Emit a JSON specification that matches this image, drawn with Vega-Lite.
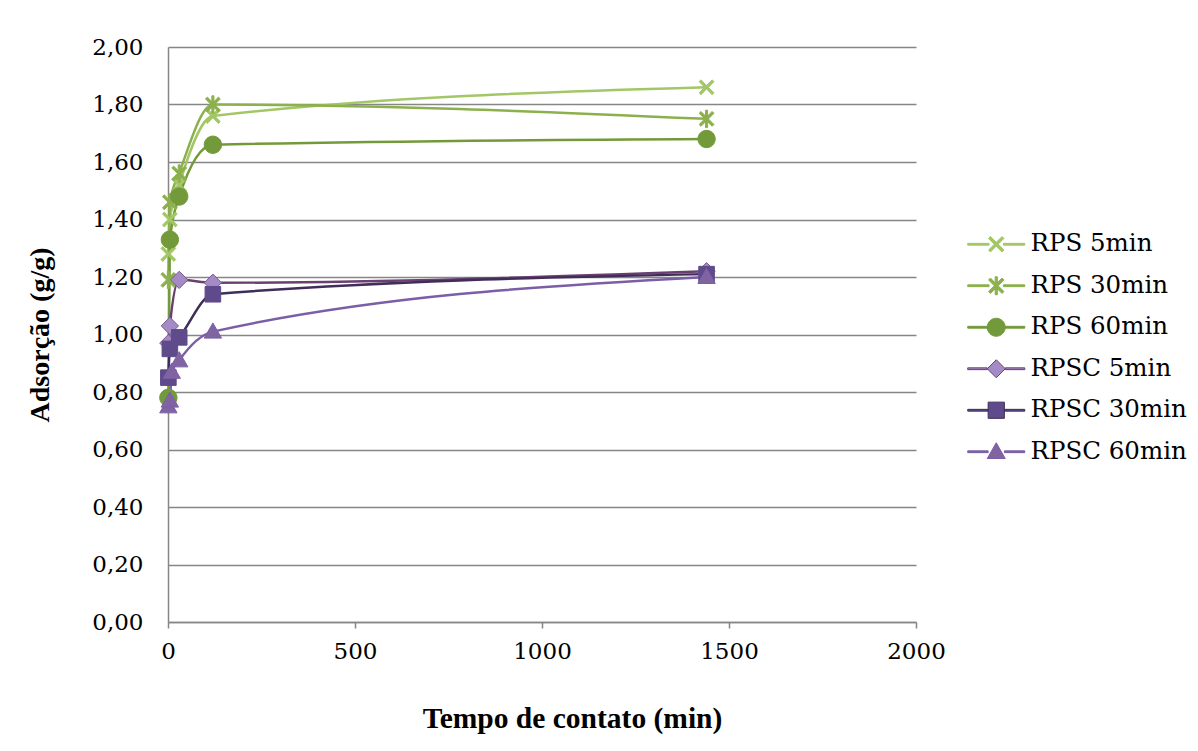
{
  "$schema": "https://vega.github.io/schema/vega-lite/v6.json",
  "width": 748,
  "height": 575,
  "autosize": {"type": "none"},
  "padding": {"left": 168, "top": 47, "right": 282, "bottom": 129},
  "background": "white",
  "config": {
    "font": "DejaVu Serif",
    "view": {"stroke": null},
    "locale": {"number": {"decimal": ",", "thousands": ".", "grouping": [3], "currency": ["R$ ", ""]}}
  },
  "data": {
    "values": [
      {"serie": "RPS 5min", "t": 1, "q": 1.28},
      {"serie": "RPS 5min", "t": 5, "q": 1.40},
      {"serie": "RPS 5min", "t": 30, "q": 1.52},
      {"serie": "RPS 5min", "t": 120, "q": 1.76},
      {"serie": "RPS 5min", "t": 1440, "q": 1.86},
      {"serie": "RPS 30min", "t": 1, "q": 1.19},
      {"serie": "RPS 30min", "t": 5, "q": 1.46},
      {"serie": "RPS 30min", "t": 30, "q": 1.56},
      {"serie": "RPS 30min", "t": 120, "q": 1.80},
      {"serie": "RPS 30min", "t": 1440, "q": 1.75},
      {"serie": "RPS 60min", "t": 1, "q": 0.78},
      {"serie": "RPS 60min", "t": 5, "q": 1.33},
      {"serie": "RPS 60min", "t": 30, "q": 1.48},
      {"serie": "RPS 60min", "t": 120, "q": 1.66},
      {"serie": "RPS 60min", "t": 1440, "q": 1.68},
      {"serie": "RPSC 5min", "t": 1, "q": 0.97},
      {"serie": "RPSC 5min", "t": 5, "q": 1.03},
      {"serie": "RPSC 5min", "t": 30, "q": 1.19},
      {"serie": "RPSC 5min", "t": 120, "q": 1.18},
      {"serie": "RPSC 5min", "t": 1440, "q": 1.22},
      {"serie": "RPSC 30min", "t": 1, "q": 0.85},
      {"serie": "RPSC 30min", "t": 5, "q": 0.95},
      {"serie": "RPSC 30min", "t": 30, "q": 0.99},
      {"serie": "RPSC 30min", "t": 120, "q": 1.14},
      {"serie": "RPSC 30min", "t": 1440, "q": 1.21},
      {"serie": "RPSC 60min", "t": 1, "q": 0.75},
      {"serie": "RPSC 60min", "t": 5, "q": 0.77},
      {"serie": "RPSC 60min", "t": 10, "q": 0.87},
      {"serie": "RPSC 60min", "t": 30, "q": 0.91},
      {"serie": "RPSC 60min", "t": 120, "q": 1.01},
      {"serie": "RPSC 60min", "t": 1440, "q": 1.20}
    ]
  },
  "layer": [
    {
      "mark": {"type": "line", "strokeWidth": 2.5, "interpolate": "monotone"},
      "encoding": {
        "x": {
          "field": "t", "type": "quantitative",
          "scale": {"domain": [0, 2000], "nice": false, "zero": false},
          "axis": {
            "title": "Tempo de contato (min)",
            "values": [0, 500, 1000, 1500, 2000],
            "format": "d",
            "grid": false,
            "domainColor": "#868686", "domainWidth": 1.5,
            "tickColor": "#868686", "tickWidth": 1.5, "tickSize": 6,
            "labelFont": "DejaVu Serif", "labelFontSize": 23, "labelColor": "#000000",
            "labelPadding": 12, "labelFlush": false,
            "titleFont": "Liberation Serif", "titleFontSize": 29.5, "titleFontWeight": "bold", "titleColor": "#000000",
            "titleX": 404, "titleY": 105, "titleBaseline": "alphabetic", "titleAnchor": null, "titleAlign": "center"
          }
        },
        "y": {
          "field": "q", "type": "quantitative",
          "scale": {"domain": [0, 2], "nice": false},
          "axis": {
            "title": "Adsorção (g/g)",
            "values": [0, 0.2, 0.4, 0.6, 0.8, 1.0, 1.2, 1.4, 1.6, 1.8, 2.0],
            "format": ".2f",
            "grid": true, "gridColor": "#868686", "gridWidth": 1.5,
            "domainColor": "#868686", "domainWidth": 1.5,
            "ticks": false,
            "labelFont": "DejaVu Serif", "labelFontSize": 23, "labelColor": "#000000",
            "labelPadding": 25,
            "titleFont": "Liberation Serif", "titleFontSize": 28, "titleFontWeight": "bold", "titleColor": "#000000",
            "titleX": -120, "titleY": 287.5, "titleBaseline": "alphabetic", "titleAngle": -90, "titleAlign": "center", "titleAnchor": null
          }
        },
        "stroke": {
          "field": "serie", "type": "nominal", "legend": null,
          "scale": {
            "domain": ["RPS 5min", "RPS 30min", "RPS 60min", "RPSC 5min", "RPSC 30min", "RPSC 60min"],
            "range": ["#a3c767", "#8cb04c", "#739a3a", "#6b3f70", "#3f2d5a", "#7b5ea6"]
          }
        }
      }
    },
    {
      "mark": {"type": "point", "filled": true, "size": 300, "strokeWidth": 1, "opacity": 1},
      "encoding": {
        "x": {"field": "t", "type": "quantitative"},
        "y": {"field": "q", "type": "quantitative"},
        "shape": {
          "field": "serie", "type": "nominal", "legend": null,
          "scale": {
            "domain": ["RPS 5min", "RPS 30min", "RPS 60min", "RPSC 5min", "RPSC 30min", "RPSC 60min"],
            "range": [
              "M-0.645,-0.855L0,-0.21L0.645,-0.855L0.855,-0.645L0.21,0L0.855,0.645L0.645,0.855L0,0.21L-0.645,0.855L-0.855,0.645L-0.21,0L-0.855,-0.645Z",
              "M-0.645,-0.855L0,-0.21L0.645,-0.855L0.855,-0.645L0.21,0L0.855,0.645L0.645,0.855L0,0.21L-0.645,0.855L-0.855,0.645L-0.21,0L-0.855,-0.645ZM-0.12,-1L0.12,-1L0.12,1L-0.12,1Z",
              "M-1,0A1,1,0,1,0,1,0A1,1,0,1,0,-1,0Z",
              "M0,-1L1,0L0,1L-1,0Z",
              "M-0.9,-0.9L0.9,-0.9L0.9,0.9L-0.9,0.9Z",
              "M0,-1L1,0.75L-1,0.75Z"
            ]
          }
        },
        "fill": {
          "field": "serie", "type": "nominal", "legend": null,
          "scale": {
            "domain": ["RPS 5min", "RPS 30min", "RPS 60min", "RPSC 5min", "RPSC 30min", "RPSC 60min"],
            "range": ["#a3c767", "#8cb04c", "#739a3a", "#a58bc6", "#5f4a8b", "#8064a2"]
          }
        },
        "stroke": {
          "field": "serie", "type": "nominal", "legend": null,
          "scale": {
            "domain": ["RPS 5min", "RPS 30min", "RPS 60min", "RPSC 5min", "RPSC 30min", "RPSC 60min"],
            "range": ["#a3c767", "#8cb04c", "#739a3a", "#7a5a8e", "#5f4a8b", "#7b5ea6"]
          }
        }
      }
    },
    {
      "mark": {"type": "point", "filled": true, "opacity": 0},
      "encoding": {
        "x": {"field": "t", "type": "quantitative"},
        "y": {"field": "q", "type": "quantitative"},
        "shape": {
          "field": "serie", "type": "nominal",
          "scale": {
            "domain": ["RPS 5min", "RPS 30min", "RPS 60min", "RPSC 5min", "RPSC 30min", "RPSC 60min"],
            "range": [
              "M-3.17,-0.1L-0.8,-0.1L-0.8,0.1L-3.17,0.1ZM0.8,-0.1L3.17,-0.1L3.17,0.1L0.8,0.1ZM-0.645,-0.855L0,-0.21L0.645,-0.855L0.855,-0.645L0.21,0L0.855,0.645L0.645,0.855L0,0.21L-0.645,0.855L-0.855,0.645L-0.21,0L-0.855,-0.645Z",
              "M-3.17,-0.1L-0.8,-0.1L-0.8,0.1L-3.17,0.1ZM0.8,-0.1L3.17,-0.1L3.17,0.1L0.8,0.1ZM-0.645,-0.855L0,-0.21L0.645,-0.855L0.855,-0.645L0.21,0L0.855,0.645L0.645,0.855L0,0.21L-0.645,0.855L-0.855,0.645L-0.21,0L-0.855,-0.645ZM-0.12,-1L0.12,-1L0.12,1L-0.12,1Z",
              "M-3.17,-0.1L-1,-0.1L-1,0.1L-3.17,0.1ZM1,-0.1L3.17,-0.1L3.17,0.1L1,0.1ZM-1,0A1,1,0,1,0,1,0A1,1,0,1,0,-1,0Z",
              "M-3.17,-0.1L-1,-0.1L-1,0.1L-3.17,0.1ZM1,-0.1L3.17,-0.1L3.17,0.1L1,0.1ZM0,-1L1,0L0,1L-1,0Z",
              "M-3.17,-0.1L-0.9,-0.1L-0.9,0.1L-3.17,0.1ZM0.9,-0.1L3.17,-0.1L3.17,0.1L0.9,0.1ZM-0.9,-0.9L0.9,-0.9L0.9,0.9L-0.9,0.9Z",
              "M-3.17,-0.1L-0.9,-0.1L-0.9,0.1L-3.17,0.1ZM0.9,-0.1L3.17,-0.1L3.17,0.1L0.9,0.1ZM0,-1L1,0.75L-1,0.75Z"
            ]
          },
          "legend": {
            "title": null,
            "orient": "none",
            "legendX": 816,
            "legendY": 185,
            "padding": 0,
            "symbolSize": 324,
            "symbolStrokeWidth": 1,
            "symbolOpacity": 1,
            "labelFont": "DejaVu Serif",
            "labelFontSize": 24.5,
            "labelColor": "#000000",
            "labelOffset": 22,
            "labelLimit": 400,
            "rowPadding": 16.5
          }
        },
        "color": {
          "field": "serie", "type": "nominal",
          "scale": {
            "domain": ["RPS 5min", "RPS 30min", "RPS 60min", "RPSC 5min", "RPSC 30min", "RPSC 60min"],
            "range": ["#a3c767", "#8cb04c", "#739a3a", "#a58bc6", "#5f4a8b", "#8064a2"]
          }
        },
        "stroke": {
          "field": "serie", "type": "nominal",
          "scale": {
            "domain": ["RPS 5min", "RPS 30min", "RPS 60min", "RPSC 5min", "RPSC 30min", "RPSC 60min"],
            "range": ["#a3c767", "#8cb04c", "#739a3a", "#6b3f70", "#3f2d5a", "#7b5ea6"]
          }
        }
      }
    }
  ],
  "resolve": {
    "scale": {"shape": "independent", "fill": "independent", "stroke": "independent", "color": "independent"},
    "legend": {"shape": "independent", "fill": "independent", "stroke": "independent", "color": "independent"}
  }
}
